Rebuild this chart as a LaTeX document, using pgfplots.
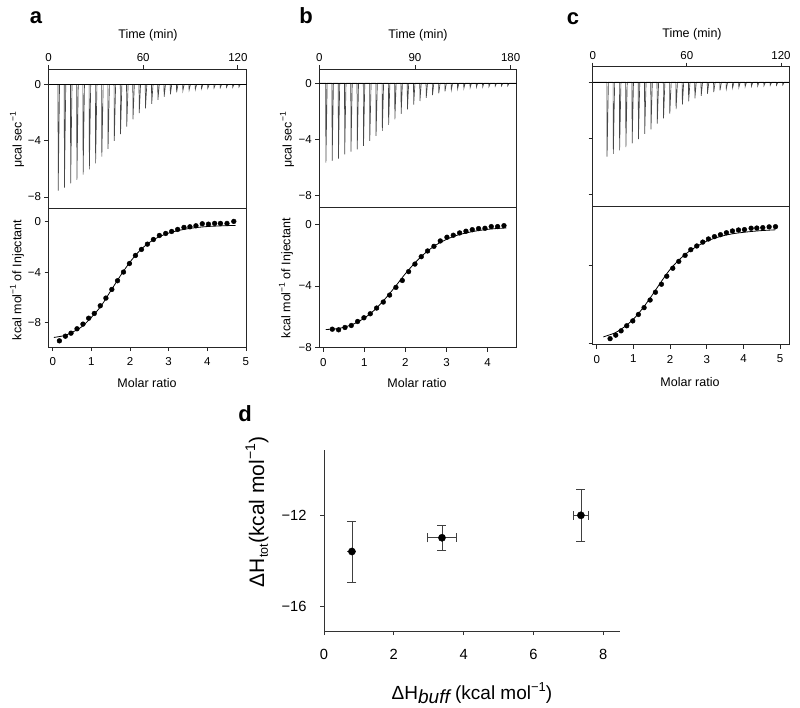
\documentclass[border=0pt]{standalone}
\usepackage{fontspec}
\setmainfont{Liberation Sans}
\usepackage{pgfplots}
\pgfplotsset{compat=1.18}
\pgfplotsset{
  itc/.style={scale only axis, anchor=north west,
    axis line style={line width=0.8pt, black!85},
    every tick/.style={line width=0.8pt, black!85},
    tick align=outside, major tick length=4pt,
    /pgf/number format/assume math mode=true,
    tick label style={font=\fontsize{11.5}{13}\selectfont},
    ytick pos=left},
  itctop/.style={itc, xtick pos=right, xticklabel pos=right},
  itcbot/.style={itc, xtick pos=left, xticklabel style={yshift=-3pt}},
  spike/.style={black!72, line width=0.65pt},
  base/.style={black, line width=0.8pt},
  dots/.style={only marks, mark=*, mark size=2.4pt, black},
  fit/.style={black, line width=0.8pt, smooth}
}
\newcommand{\sups}[1]{\raisebox{0.85ex}{\fontsize{8.5}{9}\selectfont #1}}
\begin{document}
\begin{tikzpicture}
\useasboundingbox (0pt,0pt) rectangle (800pt,-707pt);

% ---------------- panel a top
\begin{axis}[itctop, at={(48.5pt,-69.3pt)}, width=198.2pt, height=139pt,
  xmin=0, xmax=125.6, ymin=-8.81, ymax=1.07,
  xtick={0,60,120}, ytick={-8,-4,0}, yticklabels={−8,−4,0}]
\addplot[spike] coordinates {(0,0)
(6.00,0)(6.15,-7.55)(7.0,0)
(9.95,0)(10.1,-7.34)(10.95,0)
(13.90,0)(14.05,-7.03)(14.9,0)
(17.85,0)(18.0,-6.79)(18.85,0)
(21.80,0)(21.95,-6.41)(22.8,0)
(25.75,0)(25.9,-6.04)(26.75,0)
(29.70,0)(29.85,-5.61)(30.7,0)
(33.65,0)(33.8,-5.14)(34.65,0)
(37.60,0)(37.75,-4.59)(38.6,0)
(41.55,0)(41.7,-4.02)(42.55,0)
(45.50,0)(45.65,-3.53)(46.5,0)
(49.45,0)(49.6,-3.00)(50.45,0)
(53.40,0)(53.55,-2.48)(54.4,0)
(57.35,0)(57.5,-2.05)(58.35,0)
(61.30,0)(61.45,-1.70)(62.3,0)
(65.25,0)(65.4,-1.39)(66.25,0)
(69.20,0)(69.35,-1.11)(70.2,0)
(73.15,0)(73.3,-0.88)(74.15,0)
(77.10,0)(77.25,-0.71)(78.1,0)
(81.05,0)(81.2,-0.57)(82.05,0)
(85.00,0)(85.15,-0.45)(86.0,0)
(88.95,0)(89.1,-0.40)(89.95,0)
(92.90,0)(93.05,-0.36)(93.9,0)
(96.85,0)(97.0,-0.31)(97.85,0)
(100.80,0)(100.95,-0.28)(101.8,0)
(104.75,0)(104.9,-0.26)(105.75,0)
(108.70,0)(108.85,-0.24)(109.7,0)
(112.65,0)(112.8,-0.21)(113.65,0)
(116.60,0)(116.75,-0.21)(117.6,0)
(120.55,0)(120.7,-0.19)(121.55,0)
(125.6,0)};
\addplot[base] coordinates {(0,0)(125.6,0)};
\end{axis}

% ---------------- panel a bottom
\begin{axis}[itcbot, at={(48.5pt,-208.3pt)}, width=198.2pt, height=138.7pt,
  xmin=-0.11, xmax=5.02, ymin=-9.96, ymax=1.07,
  xtick={0,1,2,3,4,5}, ytick={-8,-4,0}, yticklabels={−8,−4,0}]
\addplot[dots] coordinates {
(0.172,-9.47)(0.327,-9.10)(0.473,-8.86)(0.628,-8.51)(0.782,-8.14)
(0.929,-7.67)(1.075,-7.29)(1.23,-6.68)(1.376,-6.07)(1.53,-5.38)
(1.677,-4.69)(1.831,-4.00)(1.986,-3.32)(2.141,-2.68)(2.296,-2.20)
(2.45,-1.78)(2.605,-1.41)(2.76,-1.09)(2.923,-0.93)(3.078,-0.77)
(3.233,-0.61)(3.396,-0.45)(3.55,-0.40)(3.706,-0.32)(3.87,-0.16)
(4.03,-0.19)(4.19,-0.13)(4.34,-0.13)(4.51,-0.13)(4.686,0.03)};
\addplot[fit] coordinates {
(0.03,-9.2)(0.3,-9.05)(0.5,-8.8)(0.75,-8.35)(1.0,-7.6)(1.25,-6.7)
(1.5,-5.5)(1.75,-4.3)(2.0,-3.2)(2.25,-2.3)(2.5,-1.65)(2.75,-1.2)
(3.0,-0.9)(3.25,-0.7)(3.5,-0.55)(3.75,-0.45)(4.0,-0.38)(4.25,-0.34)
(4.5,-0.31)(4.73,-0.29)};
\end{axis}

% ---------------- panel b top
\begin{axis}[itctop, at={(319.3pt,-69.3pt)}, width=197.4pt, height=138pt,
  xmin=0, xmax=185.7, ymin=-8.81, ymax=0.99,
  xtick={0,90,180}, ytick={-8,-4,0}, yticklabels={−8,−4,0}]
\addplot[spike] coordinates {(0,0)
(6.0,0)(6.2,-5.64)(7.4,0)
(11.9,0)(12.1,-5.52)(13.3,0)
(17.8,0)(18.0,-5.36)(19.2,0)
(23.7,0)(23.9,-5.05)(25.1,0)
(29.6,0)(29.8,-4.86)(31.0,0)
(35.5,0)(35.7,-4.69)(36.9,0)
(41.4,0)(41.6,-4.45)(42.8,0)
(47.3,0)(47.5,-4.10)(48.7,0)
(53.2,0)(53.4,-3.74)(54.6,0)
(59.1,0)(59.3,-3.39)(60.5,0)
(65.0,0)(65.2,-2.96)(66.4,0)
(70.9,0)(71.1,-2.56)(72.3,0)
(76.8,0)(77.0,-2.18)(78.2,0)
(82.7,0)(82.9,-1.85)(84.1,0)
(88.6,0)(88.8,-1.52)(90.0,0)
(94.5,0)(94.7,-1.26)(95.9,0)
(100.4,0)(100.6,-1.04)(101.8,0)
(106.3,0)(106.5,-0.85)(107.7,0)
(112.2,0)(112.4,-0.71)(113.6,0)
(118.1,0)(118.3,-0.57)(119.5,0)
(124.0,0)(124.2,-0.47)(125.4,0)
(129.9,0)(130.1,-0.40)(131.3,0)
(135.8,0)(136.0,-0.36)(137.2,0)
(141.7,0)(141.9,-0.31)(143.1,0)
(147.6,0)(147.8,-0.28)(149.0,0)
(153.5,0)(153.7,-0.26)(154.9,0)
(159.4,0)(159.6,-0.24)(160.8,0)
(165.3,0)(165.5,-0.21)(166.7,0)
(171.2,0)(171.4,-0.19)(172.6,0)
(177.1,0)(177.3,-0.19)(178.5,0)
(185.7,0)};
\addplot[base] coordinates {(0,0)(185.7,0)};
\end{axis}

% ---------------- panel b bottom
\begin{axis}[itcbot, at={(319.3pt,-207.3pt)}, width=197.4pt, height=140.4pt,
  xmin=-0.097, xmax=4.71, ymin=-8.0, ymax=1.1,
  xtick={0,1,2,3,4}, ytick={-8,-4,0}, yticklabels={−8,−4,0}]
\addplot[dots] coordinates {
(0.219,-6.80)(0.373,-6.84)(0.528,-6.69)(0.682,-6.56)(0.836,-6.30)
(0.990,-6.06)(1.144,-5.80)(1.299,-5.43)(1.461,-5.04)(1.615,-4.59)
(1.769,-4.09)(1.924,-3.64)(2.078,-3.07)(2.232,-2.58)(2.386,-2.10)
(2.54,-1.73)(2.695,-1.43)(2.849,-1.08)(3.011,-0.84)(3.166,-0.71)
(3.32,-0.56)(3.474,-0.45)(3.628,-0.35)(3.782,-0.28)(3.937,-0.26)
(4.09,-0.15)(4.245,-0.15)(4.40,-0.09)};
\addplot[fit] coordinates {
(0.06,-6.82)(0.3,-6.78)(0.5,-6.68)(0.75,-6.45)(1.0,-6.08)(1.25,-5.55)
(1.5,-4.85)(1.75,-4.05)(2.0,-3.2)(2.25,-2.45)(2.5,-1.82)(2.75,-1.33)
(3.0,-0.98)(3.25,-0.72)(3.5,-0.55)(3.75,-0.42)(4.0,-0.33)(4.25,-0.27)
(4.46,-0.24)};
\end{axis}

% ---------------- panel c top
\begin{axis}[itctop, at={(592.7pt,-66.7pt)}, width=196.6pt, height=139.3pt,
  xmin=0, xmax=125.3, ymin=-8.79, ymax=1.11,
  xtick={0,60,120}, ytick={-8,-4,0}, yticklabels={}]
\addplot[spike] coordinates {(0,0)
(9,0)(9.15,-5.28)(10,0)
(13,0)(13.15,-5.09)(14,0)
(17,0)(17.15,-4.83)(18,0)
(21,0)(21.15,-4.60)(22,0)
(25,0)(25.15,-4.34)(26,0)
(29,0)(29.15,-4.03)(30,0)
(33,0)(33.15,-3.67)(34,0)
(37,0)(37.15,-3.34)(38,0)
(41,0)(41.15,-2.94)(42,0)
(45,0)(45.15,-2.56)(46,0)
(49,0)(49.15,-2.23)(50,0)
(53,0)(53.15,-1.90)(54,0)
(57,0)(57.15,-1.59)(58,0)
(61,0)(61.15,-1.35)(62,0)
(65,0)(65.15,-1.14)(66,0)
(69,0)(69.15,-0.97)(70,0)
(73,0)(73.15,-0.81)(74,0)
(77,0)(77.15,-0.69)(78,0)
(81,0)(81.15,-0.57)(82,0)
(85,0)(85.15,-0.47)(86,0)
(89,0)(89.15,-0.40)(90,0)
(93,0)(93.15,-0.36)(94,0)
(97,0)(97.15,-0.31)(98,0)
(101,0)(101.15,-0.28)(102,0)
(105,0)(105.15,-0.26)(106,0)
(109,0)(109.15,-0.24)(110,0)
(113,0)(113.15,-0.21)(114,0)
(117,0)(117.15,-0.21)(118,0)
(121,0)(121.15,-0.19)(122,0)
(125.3,0)};
\addplot[base] coordinates {(0,0)(125.3,0)};
\end{axis}

% ---------------- panel c bottom
\begin{axis}[itcbot, at={(592.7pt,-206pt)}, width=196.6pt, height=138.5pt,
  xmin=-0.11, xmax=5.25, ymin=-8.05, ymax=-0.95,
  xtick={0,1,2,3,4,5}, ytick={-8,-4}, yticklabels={}]
\addplot[dots] coordinates {
(0.364,-7.75)(0.518,-7.57)(0.664,-7.35)(0.818,-7.09)(0.982,-6.84)
(1.136,-6.51)(1.291,-6.16)(1.455,-5.77)(1.600,-5.37)(1.764,-4.96)
(1.909,-4.55)(2.073,-4.14)(2.236,-3.79)(2.409,-3.48)(2.564,-3.19)
(2.727,-3.00)(2.891,-2.80)(3.045,-2.64)(3.209,-2.52)(3.373,-2.42)
(3.536,-2.32)(3.700,-2.23)(3.864,-2.18)(4.027,-2.16)(4.209,-2.09)
(4.364,-2.08)(4.527,-2.06)(4.700,-2.02)(4.873,-2.01)};
\addplot[fit] coordinates {
(0.18,-7.66)(0.5,-7.45)(0.75,-7.15)(1.0,-6.75)(1.25,-6.2)(1.5,-5.55)
(1.75,-4.85)(2.0,-4.2)(2.25,-3.7)(2.5,-3.3)(2.75,-3.0)(3.0,-2.75)
(3.25,-2.58)(3.5,-2.45)(3.75,-2.36)(4.0,-2.3)(4.25,-2.25)(4.5,-2.21)
(4.87,-2.17)};
\end{axis}

% ---------------- panel d
\begin{axis}[scale only axis, anchor=north west, at={(324pt,-450pt)},
  width=296pt, height=181pt, axis lines*=left,
  axis line style={line width=0.8pt, black!80},
  every tick/.style={line width=0.8pt, black!80},
  tick align=outside, major tick length=4pt,
  /pgf/number format/assume math mode=true,
  tick label style={font=\fontsize{14.7}{16}\selectfont},
  xticklabel style={yshift=-11pt}, yticklabel style={xshift=-10pt},
  xmin=0, xmax=8.48, ymin=-17.06, ymax=-9.16,
  xtick={0,2,4,6,8}, ytick={-16,-12}, yticklabels={−16,−12}, clip=false]
\addplot[only marks, mark=*, mark size=3.6pt, black,
  error bars/.cd, x dir=both, x explicit, y dir=both, y explicit,
  error bar style={line width=0.8pt, black!75},
  error mark options={line width=0.8pt, black!75, mark size=4.5pt, rotate=90}]
  coordinates {
  (0.80,-13.59) +- (0,1.33)
  (3.38,-12.99) +- (0.41,0.55)
  (7.36,-12.01) +- (0.21,1.15)};
\end{axis}

% ---------------- texts
\node[font=\fontsize{22}{24}\selectfont\bfseries, anchor=base] at (36pt,-23pt) {a};
\node[font=\fontsize{22}{24}\selectfont\bfseries, anchor=base] at (306pt,-23pt) {b};
\node[font=\fontsize{22}{24}\selectfont\bfseries, anchor=base] at (573pt,-24pt) {c};
\node[font=\fontsize{22}{24}\selectfont\bfseries, anchor=base] at (245pt,-421pt) {d};

\node[font=\fontsize{12.5}{14}\selectfont] at (148pt,-35pt) {Time (min)};
\node[font=\fontsize{12.5}{14}\selectfont] at (418pt,-35pt) {Time (min)};
\node[font=\fontsize{12.5}{14}\selectfont] at (692pt,-34pt) {Time (min)};

\node[font=\fontsize{12.5}{14}\selectfont] at (147pt,-383pt) {Molar ratio};
\node[font=\fontsize{12.5}{14}\selectfont] at (417pt,-383pt) {Molar ratio};
\node[font=\fontsize{12.5}{14}\selectfont] at (690pt,-382pt) {Molar ratio};

\node[rotate=90, font=\fontsize{12.5}{14}\selectfont] at (17pt,-140pt) {μcal sec\sups{−1}};
\node[rotate=90, font=\fontsize{12.5}{14}\selectfont] at (287pt,-140pt) {μcal sec\sups{−1}};
\node[rotate=90, font=\fontsize{12.5}{14}\selectfont] at (17pt,-280pt) {kcal mol\sups{−1} of Injectant};
\node[rotate=90, font=\fontsize{12.5}{14}\selectfont] at (286pt,-278pt) {kcal mol\sups{−1} of Injectant};

\node[rotate=90, font=\fontsize{21}{24}\selectfont] at (257pt,-512pt)
  {ΔH\raisebox{-0.35ex}{\fontsize{12.5}{13}\selectfont tot}(kcal mol\raisebox{0.8ex}{\fontsize{14}{15}\selectfont −1})};
\node[font=\fontsize{19}{22}\selectfont] at (472pt,-693pt)
  {ΔH\raisebox{-0.45ex}{\itshape buff} (kcal mol\raisebox{0.8ex}{\fontsize{13}{14}\selectfont −1})};
\end{tikzpicture}
\end{document}
